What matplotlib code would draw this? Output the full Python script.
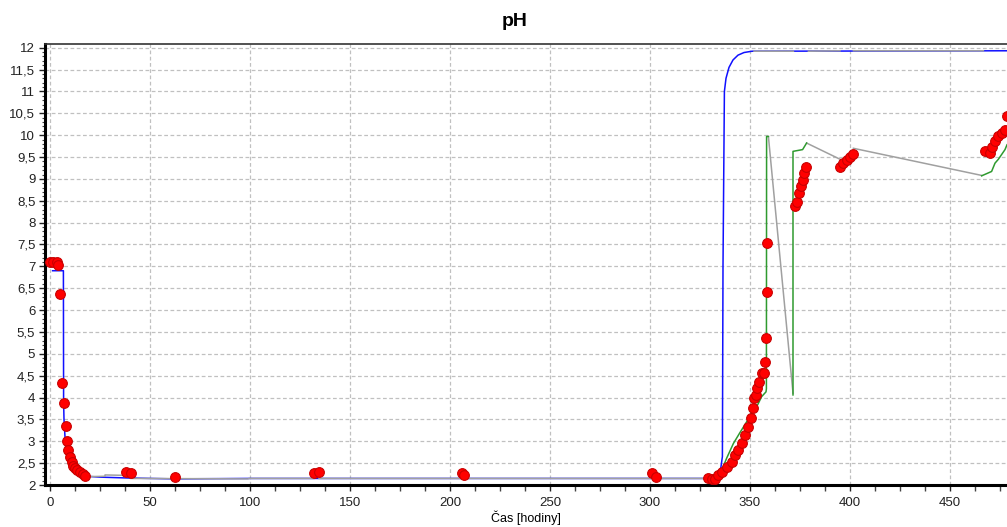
import numpy as np
import matplotlib
matplotlib.use('Agg')
import matplotlib.pyplot as plt
from matplotlib.ticker import MultipleLocator, FuncFormatter

plt.rcParams['font.family'] = ['Liberation Sans', 'DejaVu Sans']

# namerené pH (čas v hodinách)
meas_t = [0, 1.3, 3.3, 4.2, 5.0, 6.2, 7.0, 8.0, 8.7, 9.2, 10.0, 10.8, 11.7, 12.5,
          13.7, 15.0, 16.3, 17.7, 37.8, 40.5, 62.3, 132.0, 134.5, 205.8, 207.2,
          300.8, 303.0,
          329.2, 330.8, 332.5, 334.2, 335.8, 338.3, 340.8, 342.5, 344.2, 345.8,
          347.5, 349.2, 350.3, 351.3, 352.0, 353.0, 353.7, 354.7, 355.8, 357.0,
          357.5, 358.0, 358.3, 358.7,
          372.5, 373.3, 374.7, 375.3, 376.3, 377.0, 378.0,
          395.0, 396.7, 398.3, 400.0, 401.3,
          467.5, 470.0, 470.8, 472.5, 474.2, 475.8, 477.5, 478.3]
meas_pH = [7.10, 7.09, 7.11, 7.02, 6.36, 4.33, 3.87, 3.36, 3.01, 2.80, 2.65, 2.53,
           2.44, 2.38, 2.34, 2.30, 2.25, 2.21, 2.30, 2.28, 2.19, 2.27, 2.30, 2.27,
           2.22, 2.27, 2.18,
           2.15, 2.14, 2.13, 2.23, 2.30, 2.42, 2.53, 2.69, 2.80, 2.95,
           3.14, 3.33, 3.53, 3.75, 3.98, 4.06, 4.21, 4.36, 4.56, 4.57,
           4.82, 5.37, 6.42, 7.53,
           8.37, 8.48, 8.67, 8.83, 8.98, 9.13, 9.28,
           9.28, 9.36, 9.44, 9.51, 9.57,
           9.63, 9.59, 9.74, 9.86, 9.97, 10.05, 10.12, 10.43]

# model 1
model1_t = [1.3, 6.7, 6.8, 7.0, 7.5, 8.0, 9.0, 10.5, 12.5, 15.0, 18.0, 25.0, 39.0,
            62.0, 100.0, 134.0, 207.0, 303.0, 334.5, 335.5, 336.2, 336.5, 337.2,
            338.0, 339.5, 341.5, 344.0, 347.0, 351.0, 478.5]
model1_pH = [6.90, 6.90, 3.90, 3.50, 3.10, 2.80, 2.60, 2.45, 2.35, 2.27, 2.20, 2.18,
             2.16, 2.14, 2.15, 2.15, 2.15, 2.15, 2.15, 2.42, 2.65, 7.00, 11.00,
             11.30, 11.55, 11.72, 11.83, 11.89, 11.92, 11.93]

# model 2
model2_t = [333.0, 336.0, 338.3, 341.7, 345.0, 348.0, 350.8, 354.0, 355.8, 358.0,
            358.2, 358.3, 359.2, np.nan,
            371.5, 371.5, 376.3, 378.3, np.nan,
            465.8, 470.8, 472.5, 474.2, 477.5, 478.5]
model2_pH = [2.18, 2.35, 2.61, 2.95, 3.20, 3.42, 3.64, 3.85, 4.02, 4.13,
             4.20, 9.97, 9.97, np.nan,
             4.06, 9.63, 9.67, 9.82, np.nan,
             9.07, 9.17, 9.36, 9.45, 9.67, 9.78]

# úseky mimo meraní (šedá)
gap_t = [17.7, 27.5, 27.5, 37.8, np.nan, 40.5, 99.0, 99.5, 132.0, np.nan,
         134.5, 205.8, np.nan, 207.2, 300.8, np.nan, 303.0, 329.0, np.nan,
         359.2, 371.5, np.nan, 378.3, 395.0, np.nan, 401.7, 465.8, np.nan,
         352.0, 371.7, np.nan, 379.2, 395.0, np.nan, 401.7, 466.7]
gap_pH = [2.19, 2.20, 2.23, 2.22, np.nan, 2.15, 2.14, 2.15, 2.15, np.nan,
          2.15, 2.15, np.nan, 2.15, 2.15, np.nan, 2.15, 2.15, np.nan,
          9.97, 4.10, np.nan, 9.82, 9.45, np.nan, 9.70, 9.08, np.nan,
          11.92, 11.92, np.nan, 11.92, 11.93, np.nan, 11.93, 11.93]

fig = plt.figure(figsize=(10.07, 5.27), dpi=100)
ax = fig.add_axes([45 / 1007, 1 - 485 / 527, 1 - 45 / 1007, (485 - 44) / 527])

ax.plot(model1_t, model1_pH, color='#1010ff', lw=1.1, zorder=2)
ax.plot(gap_t, gap_pH, color='#a0a0a0', lw=1.1, zorder=3)
ax.plot(model2_t, model2_pH, color='#2f9a2f', lw=1.1, zorder=3)
ax.plot(meas_t, meas_pH, 'o', ms=7, mfc='#ff0000', mec='#c80000', mew=0.8, zorder=4)

ax.set_xlim(-2.5, 478.5)
ax.set_ylim(2, 12.085)

ax.xaxis.set_major_locator(MultipleLocator(50))
ax.xaxis.set_minor_locator(MultipleLocator(12.5))
ax.yaxis.set_major_locator(MultipleLocator(0.5))
ax.yaxis.set_minor_locator(MultipleLocator(0.1))
ax.yaxis.set_major_formatter(FuncFormatter(lambda v, p: f'{v:g}'.replace('.', ',')))

ax.tick_params(axis='both', which='major', labelsize=9.5, length=4, width=1, colors='#222222')
ax.tick_params(axis='x', which='minor', length=4, width=1, color='#444444')
ax.tick_params(axis='y', which='minor', length=2, width=0.8, color='#444444')
ax.tick_params(axis='y', pad=3)
ax.tick_params(axis='x', pad=5)

ax.grid(True, which='major', color='#c0c0c0', ls=(0, (3, 2)), lw=0.9)
ax.set_axisbelow(True)

ax.spines['left'].set_linewidth(2.2)
ax.spines['bottom'].set_linewidth(2.2)
ax.spines['top'].set_linewidth(1.2)
ax.spines['top'].set_color('#333333')
ax.spines['right'].set_visible(False)

ax.set_xlabel('Čas [hodiny]', fontsize=9, labelpad=1)
fig.text(515 / 1007, 1 - 22 / 527, 'pH', ha='center', va='center',
         fontsize=14, fontweight='bold')

fig.savefig('out.png', dpi=100)
